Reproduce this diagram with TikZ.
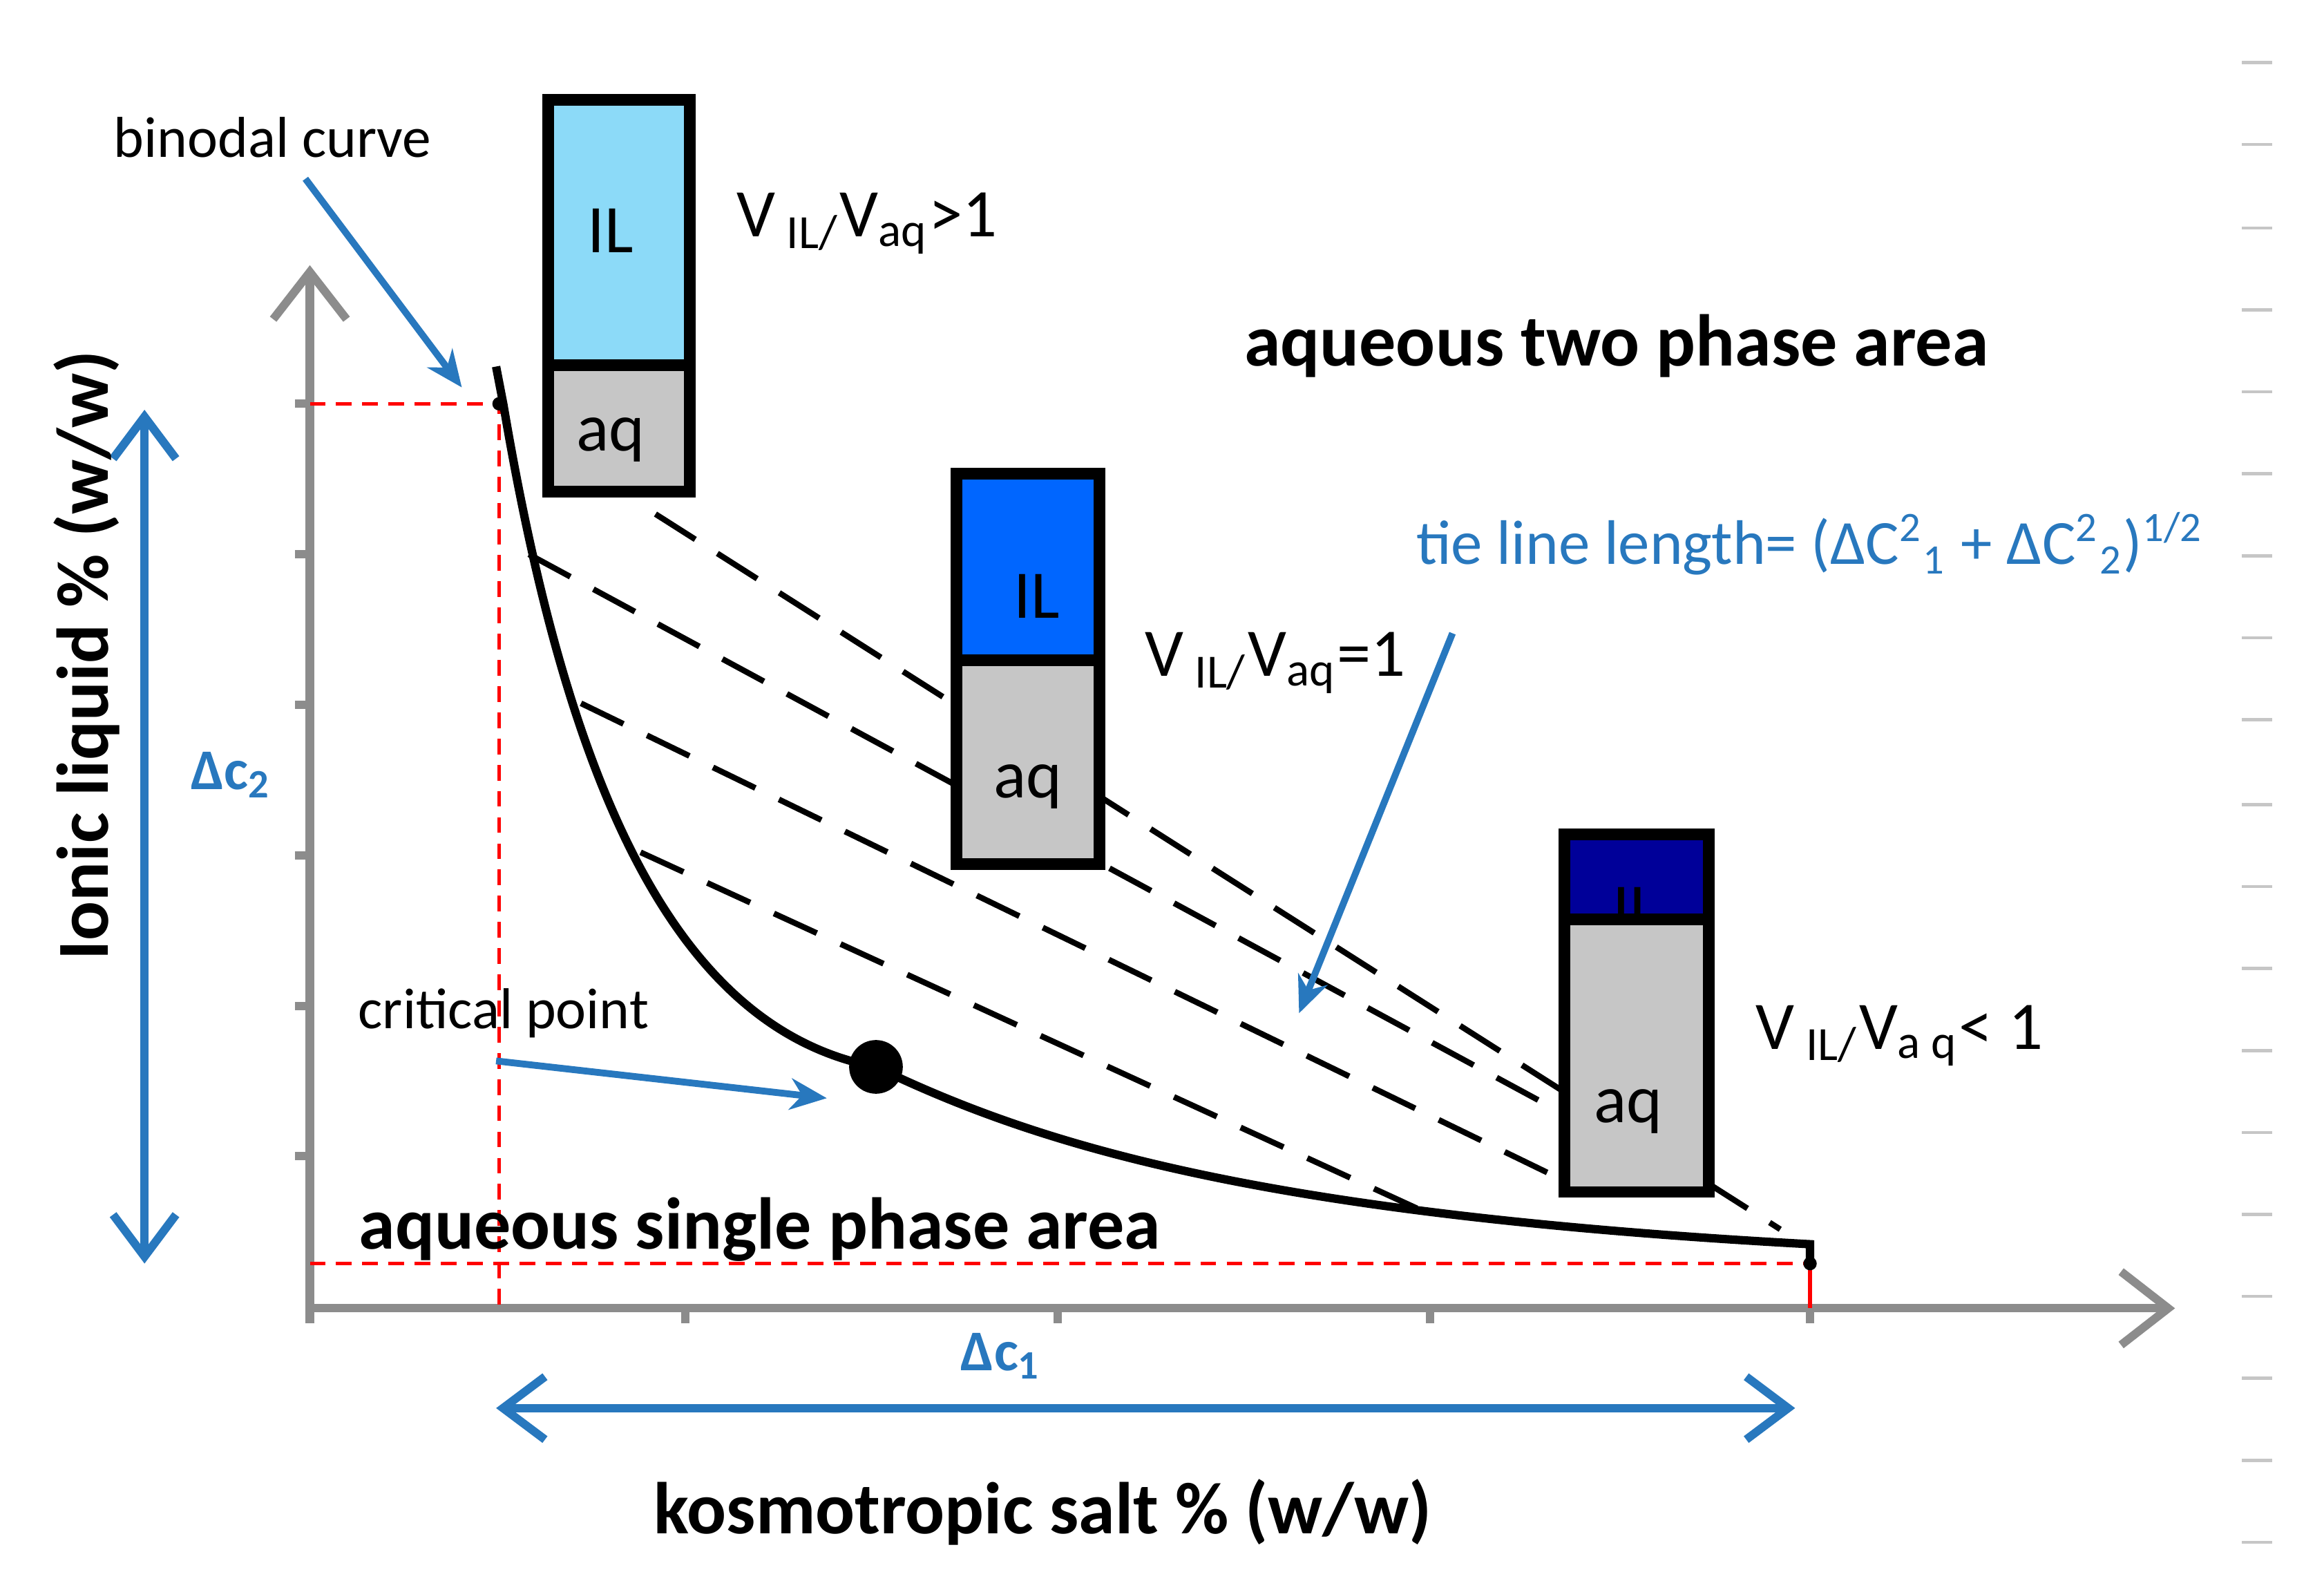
\documentclass[tikz,border=0pt]{standalone}
\usepackage{fontspec}
\setmainfont{Carlito}
\usetikzlibrary{arrows.meta}
\definecolor{ablue}{RGB}{40,120,190}
\definecolor{axg}{RGB}{140,140,140}
\begin{document}
\begin{tikzpicture}[x=0.01cm,y=-0.01cm,
  ax/.style={axg,line width=1.6pt},
  tie/.style={black,line width=1.1pt,dash pattern=on 9pt off 5pt},
  reddash/.style={draw=red,line width=0.7pt,dash pattern=on 3pt off 2pt},
  bl/.style={ablue,line width=1.3pt,-{Stealth[length=7pt,width=6pt]}},
  blb/.style={ablue,line width=1.6pt,{Straight Barb[length=8pt,width=12pt]}-{Straight Barb[length=8pt,width=12pt]}},
  box/.style={draw=black,line width=2.2pt},
  t/.style={font=\fontsize{11}{13}\selectfont},
  tm/.style={font=\fontsize{13}{15}\selectfont},
  tb/.style={font=\fontsize{14}{16}\selectfont\bfseries}]
\useasboundingbox (0,0) rectangle (1560,1061);
% right margin marks
\foreach \y in {42,97,153,208,263,318,373,428,483,540,595,650,705,760,815,870,925,980,1035}
  \draw[axg!50,line width=0.6pt] (1505,\y) -- (1525,\y);
% axes
\coordinate (O) at (208,878);
\coordinate (Ytop) at (208,178);
\coordinate (Xend) at (1460,878);
\draw[ax,-{Straight Barb[length=9pt,width=14pt]}] (O) -- (Ytop);
\draw[ax,-{Straight Barb[length=9pt,width=14pt]}] (O) -- (Xend);
\foreach \y in {271,372,473,574,675,776} \draw[ax] (198,\y) -- (208,\y);
\foreach \x in {208,460,710,960,1215} \draw[ax] (\x,878) -- (\x,888);
% red dashed
\draw[reddash] (208,271) -- (335,271) -- (335,878);
\draw[reddash] (208,848) -- (1215,848);
\draw[red,line width=0.7pt] (1215,848) -- (1215,878);
% tie lines
\draw[tie] (440,345) -- (1195,825);
\draw[tie] (355,372) -- (1045,745);
\draw[tie] (390,472) -- (1045,790);
\draw[tie] (430,572) -- (960,815);
% binodal curve
\draw[black,line width=1.6pt] (333,246) -- (338,272) .. controls (380,520) and (450,690) .. (588,716)
  .. controls (700,770) and (850,815) .. (1215,835) -- (1215,848);
\fill (335,271) circle (4.5);
\fill (1215,848) circle (4.5);
\node[circle,fill=black,inner sep=0,minimum size=0.36cm] (cp) at (588,716) {};
% boxes
\fill[cyan!45!white] (368,67) rectangle (463,245);
\fill[gray!45] (368,245) rectangle (463,330);
\draw[box] (368,67) rectangle (463,330); \draw[box] (368,245) -- (463,245);
\node[tm] at (410,155) {IL};
\node[tm] at (410,295) {aq};
\fill[blue!60!cyan] (642,318) rectangle (738,443);
\fill[gray!45] (642,443) rectangle (738,580);
\draw[box] (642,318) rectangle (738,580); \draw[box] (642,443) -- (738,443);
\node[tm] at (696,400) {IL};
\node[tm] at (690,528) {aq};
\fill[blue!60!black] (1050,560) rectangle (1147,617);
\node[tm] at (1098,610) {IL};
\fill[gray!45] (1052,619) rectangle (1145,798);
\draw[box] (1050,560) rectangle (1147,800); \draw[box] (1050,617) -- (1147,617);
\node[tm] at (1093,746) {aq};
% texts
\node[t] (bc) at (183,92) {binodal curve};
\coordinate (bcEnd) at (310,260);
\draw[bl] (205,120) -- (bcEnd);
\node[tm] at (582,150) {V\,\textsubscript{IL/}V\textsubscript{aq}>1};
\node[tm] at (856,445) {V\,\textsubscript{IL/}V\textsubscript{aq}=1};
\node[tm] at (1275,695) {V\,\textsubscript{IL/}V\textsubscript{a q}< 1};
\node[tb] at (1085,232) {aqueous two phase area};
\node[tb] at (510,825) {aqueous single phase area};
\node[ablue,font=\fontsize{12}{14}\selectfont] at (1215,365) {tie line length= (ΔC\textsuperscript{2}\textsubscript{1} + ΔC\textsuperscript{2}\textsubscript{2})\textsuperscript{1/2}};
\coordinate (tlEnd) at (872,680);
\draw[bl] (975,425) -- (tlEnd);
\node[t] (cpt) at (338,680) {critical point};
\coordinate (cpEnd) at (555,737);
\draw[bl] (333,712) -- (cpEnd);
\node[ablue,font=\fontsize{11}{13}\selectfont\bfseries] at (155,520) {Δc\textsubscript{2}};
\node[ablue,font=\fontsize{11}{13}\selectfont\bfseries] at (672,910) {Δc\textsubscript{1}};
\coordinate (v1) at (97,275); \coordinate (v2) at (97,848);
\draw[blb] (v1) -- (v2);
\coordinate (h1) at (333,945); \coordinate (h2) at (1205,945);
\draw[blb] (h1) -- (h2);
\node[tb] at (700,1015) {kosmotropic salt \% (w/w)};
\node[tb,rotate=90] at (58,440) {Ionic liquid \% (w/w)};
\end{tikzpicture}
\end{document}
